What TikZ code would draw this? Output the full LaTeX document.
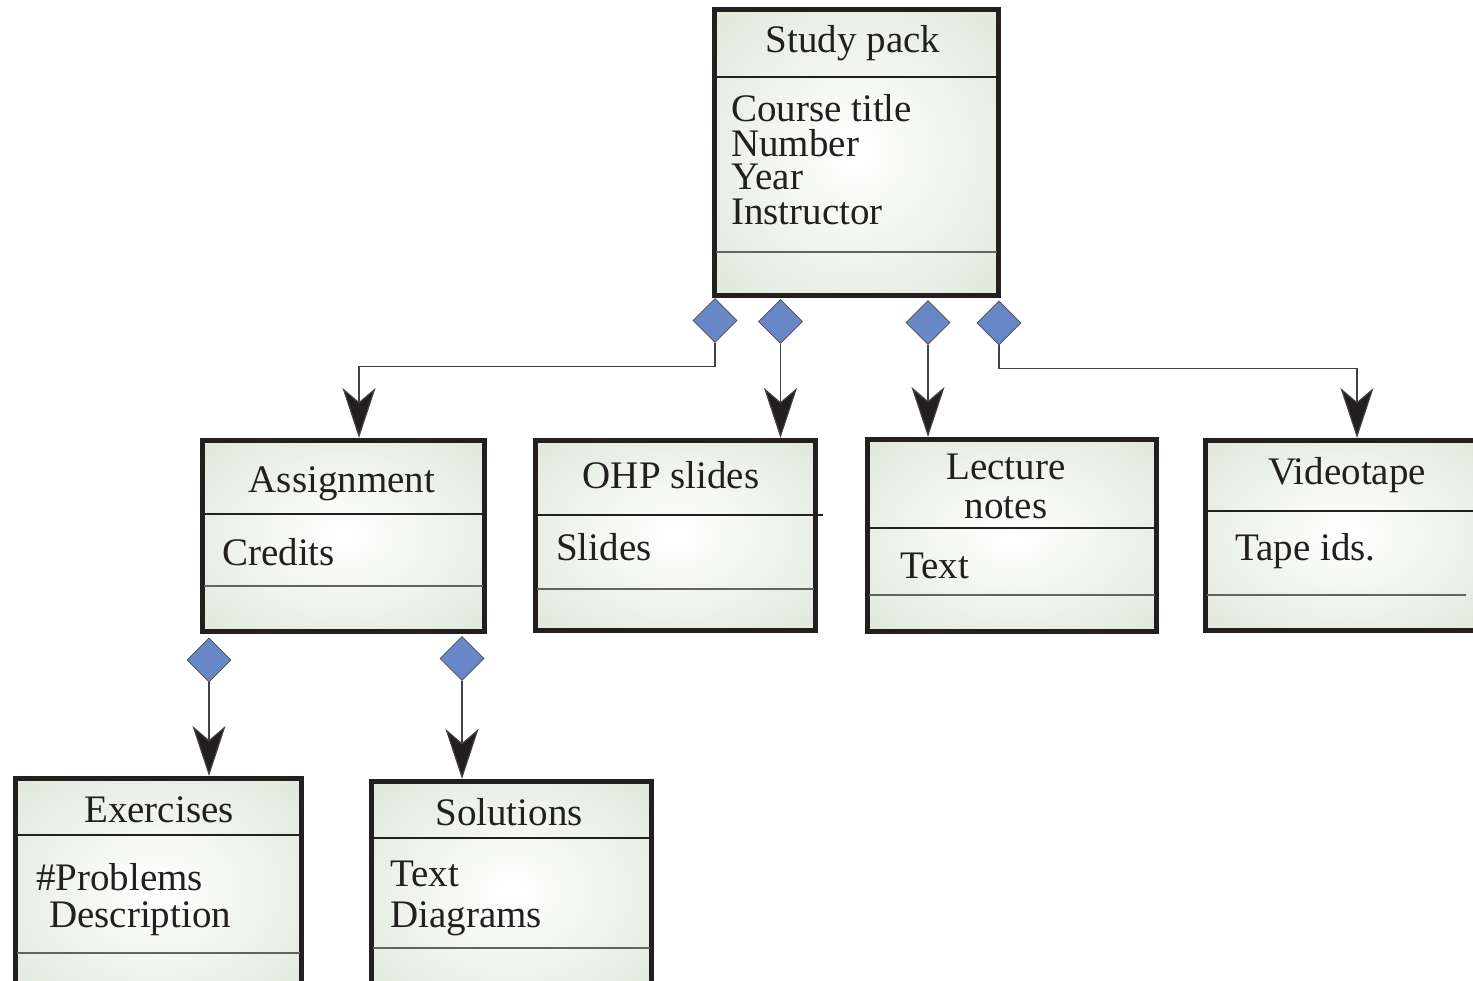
\documentclass[tikz,border=0pt]{standalone}
\usepackage{fontspec}
\setmainfont{Liberation Serif}
\usetikzlibrary{arrows.meta,shapes.geometric,calc}
\definecolor{boxg}{HTML}{D2DECA}
\definecolor{ink}{HTML}{231F20}
\definecolor{dia}{HTML}{6787C6}
\pgfdeclareradialshading{boxshade}{\pgfpoint{0bp}{0bp}}{color(0bp)=(white); color(5bp)=(white!92!boxg); color(50bp)=(boxg)}
\tikzset{
  classbox/.style={rectangle, draw=ink, line width=5pt, shade, shading=boxshade, inner sep=0pt, outer sep=2.5pt},
  divA/.style={draw=ink, line width=2.5pt, shorten <=4pt, shorten >=4pt},
  divB/.style={draw=ink!70, line width=1.5pt, shorten <=4pt, shorten >=4pt},
  conn/.style={draw=ink!85, line width=1.2pt, -{Stealth[length=50pt,width=33pt,inset=14pt,fill=ink]}},
  dmd/.style={diamond, aspect=1, minimum width=44pt, minimum height=44pt, inner sep=0pt, fill=dia, draw=ink!80, line width=0.8pt},
  ttl/.style={inner sep=0pt, text=ink, font=\fontsize{39}{39}\selectfont, anchor=base, text height=25pt, text depth=7pt},
  attr/.style={ttl, anchor=base west}
}
\begin{document}
\begin{tikzpicture}[x=1pt,y=-1pt]
\useasboundingbox (0,0) rectangle (1473,981);
\clip (0,0) rectangle (1473,981);

% class boxes
\node[classbox, minimum width=284pt, minimum height=286pt] (sp) at (856.5,152.5) {};
\node[classbox, minimum width=282pt, minimum height=191pt] (asg) at (343.5,536) {};
\node[classbox, minimum width=280pt, minimum height=190pt] (ohp) at (675.5,535.5) {};
\node[classbox, minimum width=289pt, minimum height=192pt] (lec) at (1012,535.5) {};
\node[classbox, minimum width=282pt, minimum height=190pt] (vid) at (1346.5,535.5) {};
\node[classbox, minimum width=286pt, minimum height=221.5pt] (ex) at (158.5,889.25) {};
\node[classbox, minimum width=280pt, minimum height=218.5pt] (sol) at (511.5,890.75) {};

% dividers
\draw[divA] (sp.west |- 0,77) -- (sp.east |- 0,77);
\draw[divB] (sp.west |- 0,252) -- (sp.east |- 0,252);
\draw[divA] (asg.west |- 0,514) -- (asg.east |- 0,514);
\draw[divB] (asg.west |- 0,586) -- (asg.east |- 0,586);
\draw[divA, shorten >=0pt] (ohp.west |- 0,515) -- (823,515);
\draw[divB] (ohp.west |- 0,589) -- (ohp.east |- 0,589);
\draw[divA] (lec.west |- 0,528) -- (lec.east |- 0,528);
\draw[divB] (lec.west |- 0,595) -- (lec.east |- 0,595);
\draw[divA] (vid.west |- 0,511) -- (vid.east |- 0,511);
\draw[divB] (vid.west |- 0,595) -- (1470,595);
\draw[divA] (ex.west |- 0,835) -- (ex.east |- 0,835);
\draw[divB] (ex.west |- 0,953) -- (ex.east |- 0,953);
\draw[divA] (sol.west |- 0,838) -- (sol.east |- 0,838);
\draw[divB] (sol.west |- 0,948) -- (sol.east |- 0,948);

% texts
\node[ttl] (tsp) at (853,53) {Study pack};
\node[attr] (a1) at (731,122) {Course title};
\node[attr] (a2) at (731,157) {Number};
\node[attr] (a3) at (731,190) {Year};
\node[attr] (a4) at (731,225) {Instructor};
\node[ttl] (tasg) at (342,493) {Assignment};
\node[attr] (a5) at (222,565) {Credits};
\node[ttl] (tohp) at (671,488) {OHP slides};
\node[attr] (a6) at (556,560) {Slides};
\node[ttl] (tlec1) at (1006,479) {Lecture};
\node[ttl] (tlec2) at (1006,518) {notes};
\node[attr] (a7) at (900,578) {Text};
\node[ttl] (tvid) at (1347,485) {Videotape};
\node[attr] (a8) at (1235,560) {Tape ids.};
\node[ttl] (tex) at (159,822) {Exercises};
\node[attr] (a9) at (36,890) {\#Problems};
\node[attr] (a10) at (49,927) {Description};
\node[ttl] (tsol) at (509,825) {Solutions};
\node[attr] (a11) at (390,886) {Text};
\node[attr] (a12) at (390,927) {Diagrams};

% diamonds
\node[dmd] (d1) at (715,320.5) {};
\node[dmd] (d2) at (780.5,321.5) {};
\node[dmd] (d3) at (928,322.5) {};
\node[dmd] (d4) at (999,323) {};
\node[dmd] (d5) at (209,660) {};
\node[dmd] (d6) at (462,658.5) {};

% connectors
\draw[conn] (d1.south) -- ++(0,24) -| ($(asg.north)+(15.5,0)$);
\draw[conn] (d2.south) -- (d2.south |- ohp.north);
\draw[conn] (d3.south) -- (d3.south |- lec.north);
\draw[conn] (d4.south) -- ++(0,23) -| ($(vid.north)+(10.5,0)$);
\draw[conn] (d5.south) -- (d5.south |- ex.north);
\draw[conn] (d6.south) -- (d6.south |- sol.north);
\end{tikzpicture}
\end{document}
